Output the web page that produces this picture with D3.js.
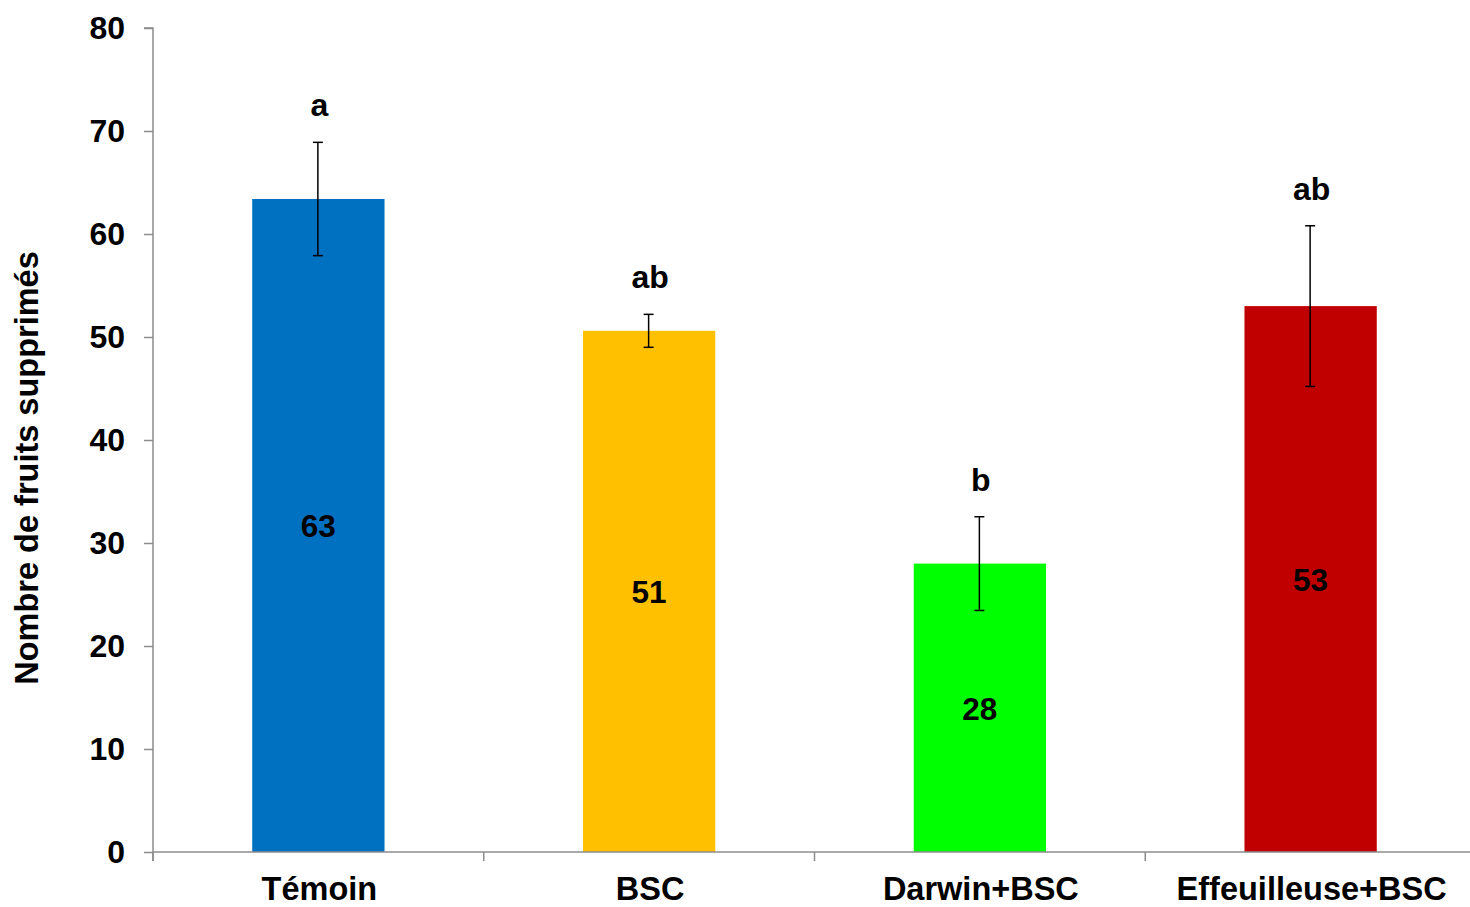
<!DOCTYPE html>
<html><head><meta charset="utf-8">
<script src="https://cdn.jsdelivr.net/npm/d3@7"></script>
<style>
html,body{margin:0;padding:0;background:#fff;}
svg{display:block;}
text{font-family:"Liberation Sans",Arial,sans-serif;font-weight:bold;fill:#000;}
</style></head>
<body>
<script>
const categories = ["Témoin", "BSC", "Darwin+BSC", "Effeuilleuse+BSC"];
const means = [63.4, 50.6, 28.0, 53.0];
const errors = [5.5, 1.6, 4.55, 7.8];
const letters = ["a", "ab", "b", "ab"];
const colors = ["#0070C0", "#FFC000", "#00FF00", "#C00000"];
const yTicks = [0, 10, 20, 30, 40, 50, 60, 70, 80];
const yTitle = "Nombre de fruits supprimés";

const W = 1470, H = 907;
const svg = d3.select("body").append("svg").attr("width", W).attr("height", H);

const x = d3.scaleBand().domain(categories).range([153, 1476]).paddingInner(0.6).paddingOuter(0.3);
const y = d3.scaleLinear().domain([0, 80]).range([852, 28]);
const axisColor = "#8c8c8c";

// bars
svg.selectAll("rect.bar").data(categories).join("rect")
  .attr("class", "bar")
  .attr("x", d => x(d))
  .attr("width", x.bandwidth())
  .attr("y", (d, i) => y(means[i]))
  .attr("height", (d, i) => y(0) - y(means[i]))
  .attr("fill", (d, i) => colors[i]);

// y axis
const yAxis = svg.append("g").attr("transform", "translate(153,0)")
  .call(d3.axisLeft(y).tickValues(yTicks).tickSize(9).tickPadding(19));
yAxis.select(".domain").attr("stroke", axisColor).attr("stroke-width", 1.5).attr("d", `M-9,${y(80)}H0V${y(0)+9}`);
yAxis.selectAll(".tick line").attr("stroke", axisColor).attr("stroke-width", 1.5);
yAxis.selectAll(".tick text").style("font-size", "32px").attr("font-family", null).attr("fill", "#000");

// x axis
const step = x.step();
const bounds = d3.range(categories.length + 1).map(i => 153 + i * step);
const xg = svg.append("g");
xg.append("line").attr("x1", 153).attr("x2", W).attr("y1", y(0)).attr("y2", y(0))
  .attr("stroke", axisColor).attr("stroke-width", 1.5);
xg.selectAll("line.xt").data(bounds).join("line").attr("class", "xt")
  .attr("x1", d => d).attr("x2", d => d).attr("y1", y(0)).attr("y2", y(0) + 9)
  .attr("stroke", axisColor).attr("stroke-width", 1.5);
xg.selectAll("text.cat").data(categories).join("text").attr("class", "cat")
  .attr("x", d => x(d) + x.bandwidth() / 2 + 1)
  .attr("y", 900)
  .attr("text-anchor", "middle")
  .style("font-size", "32.5px")
  .text(d => d);

// error bars
const eb = svg.selectAll("g.err").data(categories).join("g").attr("class", "err")
  .attr("transform", d => `translate(${x(d) + x.bandwidth() / 2 - 0.5},0)`);
eb.append("line").attr("y1", (d, i) => y(means[i] + errors[i])).attr("y2", (d, i) => y(means[i] - errors[i]))
  .attr("stroke", "#000").attr("stroke-width", 1.5);
eb.append("line").attr("x1", -5).attr("x2", 5).attr("y1", (d, i) => y(means[i] + errors[i])).attr("y2", (d, i) => y(means[i] + errors[i]))
  .attr("stroke", "#000").attr("stroke-width", 1.5);
eb.append("line").attr("x1", -5).attr("x2", 5).attr("y1", (d, i) => y(means[i] - errors[i])).attr("y2", (d, i) => y(means[i] - errors[i]))
  .attr("stroke", "#000").attr("stroke-width", 1.5);

// value labels
svg.selectAll("text.val").data(categories).join("text").attr("class", "val")
  .attr("x", d => x(d) + x.bandwidth() / 2)
  .attr("y", (d, i) => (y(means[i]) + y(0)) / 2 + 12)
  .attr("text-anchor", "middle")
  .style("font-size", "31.5px")
  .text((d, i) => d3.format(".0f")(means[i]));

// significance letters
svg.selectAll("text.let").data(categories).join("text").attr("class", "let")
  .attr("x", d => x(d) + x.bandwidth() / 2 + 1)
  .attr("y", (d, i) => y(means[i] + errors[i]) - 26)
  .attr("text-anchor", "middle")
  .style("font-size", "32px")
  .text((d, i) => letters[i]);

// y title
svg.append("text")
  .attr("transform", `translate(38,468) rotate(-90)`)
  .attr("text-anchor", "middle")
  .style("font-size", "32.5px")
  .text(yTitle);
</script>
</body></html>
